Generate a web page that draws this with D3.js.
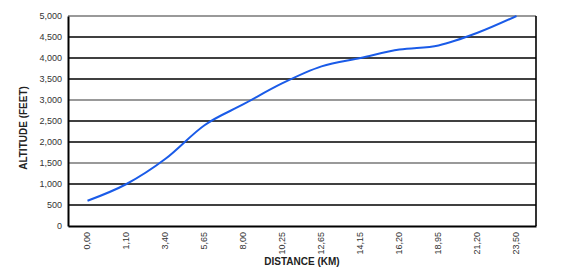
<!DOCTYPE html>
<html>
<head>
<meta charset="utf-8">
<script src="https://cdn.jsdelivr.net/npm/d3@7"></script>
<style>
  body { margin: 0; background: #fff; }
  text { font-family: Arial, "Liberation Sans", sans-serif; }
</style>
</head>
<body>
<svg width="575" height="274"></svg>
<script>
// distance labels along the bottom (km)
var distances = ["0,00", "1,10", "3,40", "5,65", "8,00", "10,25", "12,65", "14,15", "16,20", "18,95", "21,20", "23,50"];
// altitude at each distance (feet)
var altitudes = [600, 1000, 1600, 2400, 2900, 3400, 3800, 4000, 4200, 4300, 4600, 5000];
var yTicks = [0, 500, 1000, 1500, 2000, 2500, 3000, 3500, 4000, 4500, 5000];
var lightLines = [1500, 3000, 5000];

var svg = d3.select("svg");
// note: "top" clashes with window.top, so use plotTop etc.
var plotLeft = 68, plotRight = 536, plotTop = 16, plotBottom = 226;

var xScale = d3.scaleBand()
  .domain(distances)
  .range([plotLeft, plotRight]);

var yScale = d3.scaleLinear()
  .domain([0, 5000])
  .range([plotBottom, plotTop]);

// gridlines
svg.selectAll(".grid")
  .data(yTicks.filter(d => d > 0))
  .enter()
  .append("line")
    .attr("x1", plotLeft)
    .attr("x2", plotRight)
    .attr("y1", d => yScale(d))
    .attr("y2", d => yScale(d))
    .attr("stroke", d => lightLines.indexOf(d) >= 0 ? "#777" : "#000")
    .attr("stroke-width", 1.6);

// right border
svg.append("line")
  .attr("x1", plotRight).attr("x2", plotRight)
  .attr("y1", plotTop).attr("y2", plotBottom)
  .attr("stroke", "#000").attr("stroke-width", 1.6);

// y axis
var yAxis = d3.axisLeft(yScale)
  .tickValues(yTicks)
  .tickSize(0)
  .tickPadding(6)
  .tickFormat(d3.format(","));
var gy = svg.append("g")
  .attr("transform", "translate(" + plotLeft + ",0)")
  .call(yAxis);
gy.select(".domain").attr("stroke", "#000").attr("stroke-width", 2);
gy.selectAll("text").attr("font-size", 9).attr("fill", "#333");

// x axis
var xAxis = d3.axisBottom(xScale).tickSize(0).tickPadding(0);
var gx = svg.append("g")
  .attr("transform", "translate(0," + plotBottom + ")")
  .call(xAxis);
gx.select(".domain").attr("stroke", "#000").attr("stroke-width", 2);
gx.selectAll("text")
  .attr("font-size", 9)
  .attr("fill", "#333")
  .attr("text-anchor", "end")
  .attr("dy", "0.32em")
  .attr("transform", "translate(0,6) rotate(-90)")
  .attr("x", 0)
  .attr("y", 0);

// altitude line
var line = d3.line()
  .x((d, i) => xScale(distances[i]) + xScale.bandwidth() / 2)
  .y(d => yScale(d))
  .curve(d3.curveMonotoneX);

svg.append("path")
  .datum(altitudes)
  .attr("d", line)
  .attr("fill", "none")
  .attr("stroke", "#1a5be8")
  .attr("stroke-width", 2);

// axis titles
svg.append("text")
  .attr("x", (plotLeft + plotRight) / 2)
  .attr("y", 265)
  .attr("text-anchor", "middle")
  .attr("font-size", 10)
  .attr("font-weight", "bold")
  .attr("fill", "#222")
  .text("DISTANCE (KM)");

svg.append("text")
  .attr("transform", "translate(27,128) rotate(-90)")
  .attr("text-anchor", "middle")
  .attr("font-size", 10)
  .attr("font-weight", "bold")
  .attr("fill", "#222")
  .text("ALTITUDE (FEET)");
</script>
</body>
</html>
